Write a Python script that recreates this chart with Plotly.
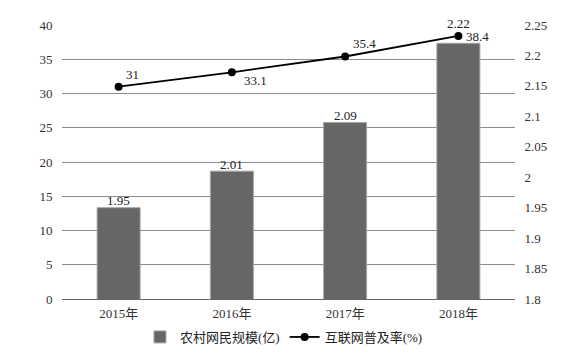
import plotly.graph_objects as go

categories = ["2015年", "2016年", "2017年", "2018年"]
rural_users = [1.95, 2.01, 2.09, 2.22]          # 农村网民规模(亿) - right axis
penetration = [31, 33.1, 35.4, 38.4]             # 互联网普及率(%) - left axis
left_ticks = [0, 5, 10, 15, 20, 25, 30, 35, 40]
right_ticks = [1.8, 1.85, 1.9, 1.95, 2.0, 2.05, 2.1, 2.15, 2.2, 2.25]
right_tick_text = ["1.8", "1.85", "1.9", "1.95", "2", "2.05", "2.1", "2.15", "2.2", "2.25"]

FONT = "Liberation Serif, Times New Roman, Noto Sans CJK SC, serif"
GRID = "#8c8c8c"
CLEAR = "rgba(0,0,0,0)"

fig = go.Figure()
fig.add_trace(go.Bar(
    x=categories, y=rural_users, yaxis="y2", name="农村网民规模(亿)",
    marker=dict(color="#666666", line=dict(color="#a6a6a6", width=1)),
))
fig.add_trace(go.Scatter(
    x=categories, y=penetration, yaxis="y", name="互联网普及率(%)",
    mode="lines+markers",
    line=dict(color="#000000", width=1.8),
    marker=dict(color="#000000", size=8),
))

label_font = dict(family=FONT, size=13, color="#222222")
bar_label_shift = [7, 7, 7, 20]
for c, v, s in zip(categories, rural_users, bar_label_shift):
    fig.add_annotation(x=c, y=v, yref="y2", text=f"{v:g}", showarrow=False,
                       yshift=s, font=label_font)

line_label_xshift = [14, 24, 19, 19]
line_label_yshift = [12, -8, 13, -1]
for c, v, dx, dy in zip(categories, penetration, line_label_xshift, line_label_yshift):
    fig.add_annotation(x=c, y=v, yref="y", text=f"{v:g}", showarrow=False,
                       xshift=dx, yshift=dy, font=label_font)

fig.update_layout(
    width=576, height=354,
    margin=dict(l=62, r=61, t=25, b=55, autoexpand=False),
    paper_bgcolor="white", plot_bgcolor="white",
    font=dict(family=FONT, size=13, color="#333333"),
    bargap=0.62,
    showlegend=True,
    legend=dict(orientation="h", x=0.49, xanchor="center", yref="container",
                y=1 - 337 / 354, yanchor="middle", bgcolor=CLEAR,
                font=dict(family=FONT, size=13, color="#222222"), traceorder="normal"),
    xaxis=dict(showgrid=False, showline=False, ticks="outside", ticklen=2,
               tickcolor=CLEAR, tickfont=dict(size=13)),
    yaxis=dict(range=[0, 40], tickvals=left_ticks, showgrid=True, gridcolor=GRID,
               gridwidth=1, zeroline=True, zerolinecolor="#666666", zerolinewidth=1,
               showline=False, ticks="outside", ticklen=6, tickcolor=CLEAR,
               tickfont=dict(size=13)),
    yaxis2=dict(range=[1.8, 2.25], overlaying="y", side="right",
                tickvals=right_ticks, ticktext=right_tick_text, showgrid=False,
                zeroline=False, showline=False, ticks="outside", ticklen=6,
                tickcolor=CLEAR, tickfont=dict(size=13)),
)

fig.write_html("out.html")
